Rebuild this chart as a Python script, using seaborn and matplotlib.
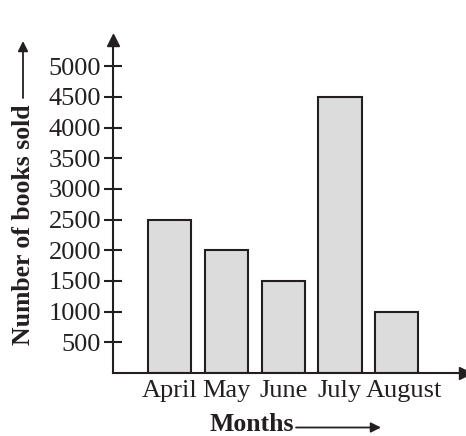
import pandas as pd
import matplotlib
matplotlib.use("Agg")
import matplotlib.pyplot as plt
import matplotlib.transforms as mtransforms
import seaborn as sns

# Data
months = ["April", "May", "June", "July", "August"]
books_sold = [2500, 2000, 1500, 4500, 1000]
y_ticks = [500, 1000, 1500, 2000, 2500, 3000, 3500, 4000, 4500, 5000]

df = pd.DataFrame({"month": months, "books": books_sold})

sns.set_style("white")
plt.rcParams["font.family"] = ["Liberation Serif", "DejaVu Serif"]

ink = "#231f20"

fig = plt.figure(figsize=(4.66, 4.36), dpi=100)
ax = fig.add_axes([0.2425, 0.1445, 0.755, 0.764])

sns.barplot(data=df, x="month", y="books", color="#dcdcdc", saturation=1,
            edgecolor=ink, linewidth=1.5, width=0.76, ax=ax)

ax.set_xlim(-1, 5.2)
ax.set_ylim(0, 5430)
ax.set_yticks(y_ticks)
ax.set_yticklabels([str(v) for v in y_ticks], fontsize=19)
ax.tick_params(axis="y", direction="inout", length=13, width=1.5, color=ink,
               labelcolor=ink, pad=2, left=True)
ax.tick_params(axis="x", length=0, labelsize=19, labelcolor=ink, pad=5)
ax.set_xlabel("")
ax.set_ylabel("")

# the last label sits a little to the right in the reference
lbl = ax.get_xticklabels()[-1]
lbl.set_transform(lbl.get_transform() + mtransforms.ScaledTranslation(0.07, 0, fig.dpi_scale_trans))

for side in ["top", "right"]:
    ax.spines[side].set_visible(False)
for side in ["left", "bottom"]:
    ax.spines[side].set_color(ink)
    ax.spines[side].set_linewidth(1.5)

# arrow heads on the axes
ax.plot([0], [1], marker="^", markersize=8, color=ink, transform=ax.transAxes, clip_on=False)
ax.plot([1], [0], marker=">", markersize=8, color=ink, transform=ax.transAxes, clip_on=False)

# axis titles with arrows
fig.text(251.5 / 466, 1 - 424 / 436, "Months", fontsize=18.5, fontweight="bold",
         ha="center", va="center", color=ink)
ax_arrow = dict(arrowstyle="-|>", color=ink, lw=1.3, mutation_scale=15)
fig.patches.append(matplotlib.patches.FancyArrowPatch(
    (296 / 466, 1 - 427.5 / 436), (381 / 466, 1 - 427.5 / 436),
    transform=fig.transFigure, shrinkA=0, shrinkB=0, **ax_arrow))

fig.text(24 / 466, 1 - 225 / 436, "Number of books sold", fontsize=18.5,
         fontweight="bold", rotation=90, ha="center", va="center", color=ink)
fig.patches.append(matplotlib.patches.FancyArrowPatch(
    (23 / 466, 1 - 98 / 436), (23 / 466, 1 - 41 / 436),
    transform=fig.transFigure, shrinkA=0, shrinkB=0, **ax_arrow))

fig.savefig("out.png", dpi=100)
